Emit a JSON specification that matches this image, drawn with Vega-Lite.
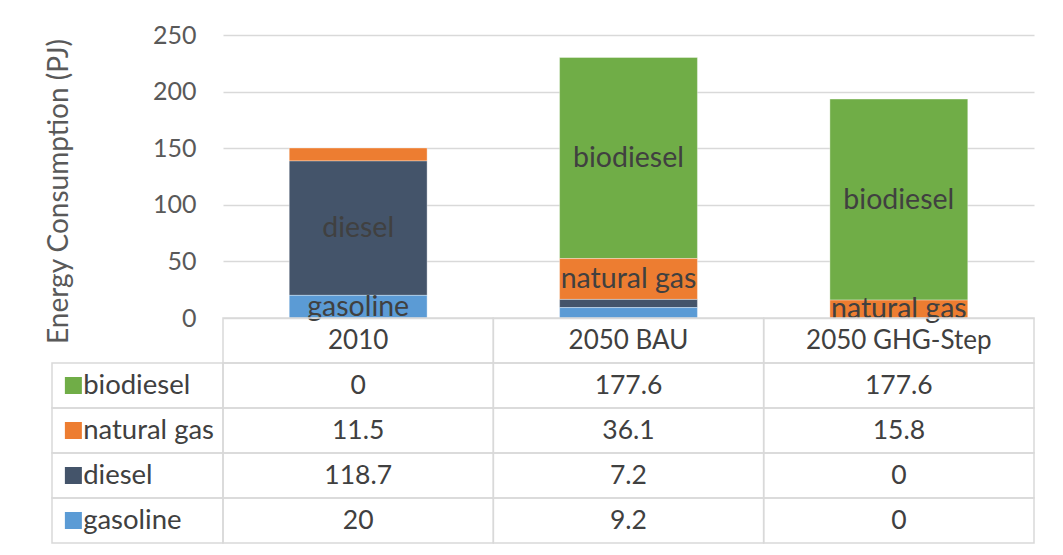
{
  "$schema": "https://vega.github.io/schema/vega-lite/v6.json",
  "padding": {"left": 45, "top": 23, "right": 0, "bottom": 0},
  "background": "#ffffff",
  "config": {"view": {"stroke": null}},
  "datasets": {
    "energy": [
      {"category": "2010", "fuel": "biodiesel", "value": 0},
      {"category": "2010", "fuel": "natural gas", "value": 11.5},
      {"category": "2010", "fuel": "diesel", "value": 118.7},
      {"category": "2010", "fuel": "gasoline", "value": 20},
      {"category": "2050 BAU", "fuel": "biodiesel", "value": 177.6},
      {"category": "2050 BAU", "fuel": "natural gas", "value": 36.1},
      {"category": "2050 BAU", "fuel": "diesel", "value": 7.2},
      {"category": "2050 BAU", "fuel": "gasoline", "value": 9.2},
      {"category": "2050 GHG-Step", "fuel": "biodiesel", "value": 177.6},
      {"category": "2050 GHG-Step", "fuel": "natural gas", "value": 15.8},
      {"category": "2050 GHG-Step", "fuel": "diesel", "value": 0},
      {"category": "2050 GHG-Step", "fuel": "gasoline", "value": 0}
    ]
  },
  "columns": 2,
  "spacing": 0,
  "bounds": "flush",
  "align": "each",
  "concat": [
    {
      "width": 171,
      "height": 283,
      "data": {"values": [{}]},
      "mark": {"type": "rect", "opacity": 0},
      "encoding": {}
    },
    {
      "width": 811,
      "height": 283,
      "data": {"name": "energy"},
      "transform": [
        {"calculate": "indexof(['gasoline','diesel','natural gas','biodiesel'], datum.fuel)", "as": "rank"},
        {"stack": "value", "groupby": ["category"], "sort": [{"field": "rank", "order": "ascending"}], "as": ["v0", "v1"]},
        {"calculate": "(datum.v0 + datum.v1) / 2", "as": "mid"}
      ],
      "encoding": {
        "x": {
          "field": "category", "type": "nominal",
          "sort": ["2010", "2050 BAU", "2050 GHG-Step"],
          "scale": {"paddingInner": 0.49, "paddingOuter": 0.245},
          "axis": null
        }
      },
      "layer": [
        {
          "transform": [{"filter": "datum.value > 0"}],
          "mark": {"type": "bar", "stroke": "#ffffff", "strokeWidth": 0.6, "strokeOpacity": 0.6},
          "encoding": {
            "y": {
              "field": "v0", "type": "quantitative",
              "scale": {"domain": [0, 250], "nice": false},
              "axis": {
                "title": "Energy Consumption (PJ)",
                "values": [0, 50, 100, 150, 200, 250],
                "grid": true, "gridColor": "#D9D9D9", "gridWidth": 1.3,
                "domain": false, "ticks": false,
                "labelPadding": 27, "labelFont": "Lato", "labelFontSize": 25, "labelColor": "#595959",
                "titleFont": "Lato", "titleFontSize": 28, "titleFontWeight": "normal", "titleColor": "#595959",
                "titlePadding": 79, "titleY": 156
              }
            },
            "y2": {"field": "v1"},
            "color": {
              "field": "fuel", "type": "nominal",
              "scale": {"domain": ["biodiesel", "natural gas", "diesel", "gasoline"], "range": ["#70AD47", "#ED7D31", "#44546A", "#5B9BD5"]},
              "legend": null
            }
          }
        },
        {
          "transform": [{"filter": "datum.value > 12"}],
          "mark": {"type": "text", "font": "Lato", "fontSize": 28.5, "color": "#404040", "baseline": "middle", "align": "center"},
          "encoding": {
            "y": {"field": "mid", "type": "quantitative"},
            "text": {"field": "fuel", "type": "nominal"}
          }
        }
      ]
    },
    {
      "width": 171,
      "height": 225,
      "data": {"name": "energy"},
      "transform": [{"filter": "datum.category == '2010'"}],
      "encoding": {
        "y": {
          "field": "fuel", "type": "nominal",
          "scale": {"domain": ["header", "biodiesel", "natural gas", "diesel", "gasoline"], "paddingInner": 0, "paddingOuter": 0},
          "axis": null
        }
      },
      "layer": [
        {"mark": {"type": "rect", "fill": "transparent", "stroke": "#D9D9D9", "strokeWidth": 1.5}, "encoding": {}},
        {
          "mark": {"type": "point", "shape": "square", "filled": true, "size": 289, "opacity": 1, "strokeWidth": 0},
          "encoding": {
            "x": {"datum": "swatch", "type": "ordinal", "scale": {"type": "point", "domain": ["swatch", "name"], "range": [16.5, 36]}, "axis": null},
            "color": {"field": "fuel", "type": "nominal", "legend": null}
          }
        },
        {
          "mark": {"type": "text", "align": "left", "baseline": "middle", "font": "Lato", "fontSize": 27.5, "color": "#404040"},
          "encoding": {
            "x": {"datum": "name", "type": "ordinal"},
            "text": {"field": "fuel", "type": "nominal"}
          }
        }
      ]
    },
    {
      "width": 811,
      "height": 225,
      "data": {"name": "energy"},
      "encoding": {
        "x": {
          "field": "category", "type": "nominal",
          "sort": ["2010", "2050 BAU", "2050 GHG-Step"],
          "scale": {"paddingInner": 0, "paddingOuter": 0},
          "axis": null
        },
        "y": {
          "field": "fuel", "type": "nominal",
          "scale": {"domain": ["header", "biodiesel", "natural gas", "diesel", "gasoline"], "paddingInner": 0, "paddingOuter": 0},
          "axis": null
        }
      },
      "layer": [
        {"mark": {"type": "rect", "fill": "transparent", "stroke": "#D9D9D9", "strokeWidth": 1.5}},
        {
          "transform": [{"filter": "datum.fuel == 'biodiesel'"}],
          "mark": {"type": "rect", "fill": "transparent", "stroke": "#D9D9D9", "strokeWidth": 1.5},
          "encoding": {"y": {"datum": "header", "type": "nominal"}}
        },
        {
          "mark": {"type": "text", "font": "Lato", "fontSize": 26.5, "color": "#404040", "baseline": "middle", "align": "center"},
          "encoding": {"text": {"field": "value", "type": "nominal"}}
        },
        {
          "transform": [{"filter": "datum.fuel == 'biodiesel'"}],
          "mark": {"type": "text", "font": "Lato", "fontSize": 26, "color": "#404040", "baseline": "middle", "align": "center"},
          "encoding": {"y": {"datum": "header", "type": "nominal"}, "text": {"field": "category", "type": "nominal"}}
        }
      ]
    }
  ]
}
